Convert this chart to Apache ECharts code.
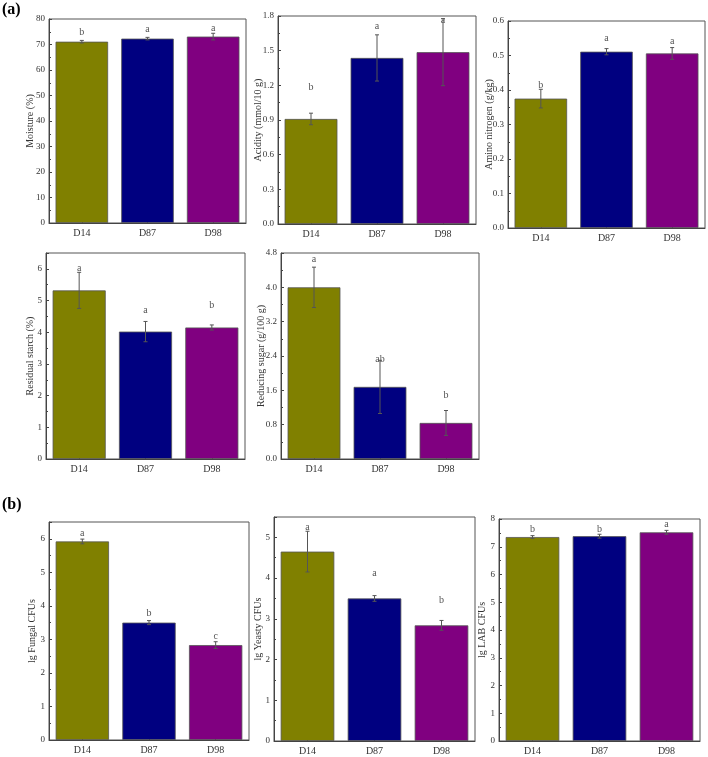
<!DOCTYPE html>
<html><head><meta charset="utf-8">
<script src="https://cdn.jsdelivr.net/npm/echarts@6/dist/echarts.min.js"></script>
<style>html,body{margin:0;padding:0;background:#fff}#c{width:708px;height:757px}</style>
</head><body><div id="c"></div>
<script>
const categories = ['D14', 'D87', 'D98'];
const colors = ['#808000', '#000080', '#800080'];

const moisture = [71.1, 72.3, 73.1];
const moistureErr = [0.5, 0.5, 1.3];
const moistureLetters = ['b', 'a', 'a'];
const moistureLetterY = [74.8, 76.0, 76.4];

const acidity = [0.909, 1.437, 1.487];
const acidityErr = [0.05, 0.2, 0.29];
const acidityLetters = ['b', 'a', 'a'];
const acidityLetterY = [1.18, 1.71, 1.76];

const aminoN = [0.375, 0.511, 0.506];
const aminoNErr = [0.027, 0.009, 0.017];
const aminoNLetters = ['b', 'a', 'a'];
const aminoNLetterY = [0.414, 0.549, 0.542];

const starch = [5.32, 4.02, 4.15];
const starchErr = [0.57, 0.32, 0.08];
const starchLetters = ['a', 'a', 'b'];
const starchLetterY = [6.0, 4.69, 4.84];

const sugar = [4.0, 1.68, 0.84];
const sugarErr = [0.47, 0.62, 0.29];
const sugarLetters = ['a', 'ab', 'b'];
const sugarLetterY = [4.65, 2.31, 1.48];

const fungal = [5.92, 3.50, 2.83];
const fungalErr = [0.07, 0.06, 0.1];
const fungalLetters = ['a', 'b', 'c'];
const fungalLetterY = [6.16, 3.78, 3.1];

const yeast = [4.65, 3.50, 2.84];
const yeastErr = [0.5, 0.07, 0.12];
const yeastLetters = ['a', 'a', 'b'];
const yeastLetterY = [5.25, 4.11, 3.45];

const lab = [7.35, 7.38, 7.52];
const labErr = [0.05, 0.07, 0.07];
const labLetters = ['b', 'b', 'a'];
const labLetterY = [7.62, 7.62, 7.81];

const panels = [
  {name: 'Moisture (%)', v: moisture, e: moistureErr, l: moistureLetters, ly: moistureLetterY, max: 80, iv: 10, dec: 0,
   g: {left: 49, top: 19, width: 197, height: 204}, gap: 14},
  {name: 'Acidity (mmol/10 g)', v: acidity, e: acidityErr, l: acidityLetters, ly: acidityLetterY, max: 1.8, iv: 0.3, dec: 1,
   g: {left: 278, top: 16, width: 198, height: 208}, gap: 15},
  {name: 'Amino nitrogen (g/kg)', v: aminoN, e: aminoNErr, l: aminoNLetters, ly: aminoNLetterY, max: 0.6, iv: 0.1, dec: 1,
   g: {left: 508, top: 21, width: 197, height: 207}, gap: 14},
  {name: 'Residual starch (%)', v: starch, e: starchErr, l: starchLetters, ly: starchLetterY, max: 6.5, iv: 1, dec: 0,
   g: {left: 46, top: 253, width: 199, height: 206}, gap: 11},
  {name: 'Reducing sugar (g/100 g)', v: sugar, e: sugarErr, l: sugarLetters, ly: sugarLetterY, max: 4.8, iv: 0.8, dec: 1,
   g: {left: 281, top: 253, width: 198, height: 206}, gap: 15},
  {name: 'lg Fungal CFUs', v: fungal, e: fungalErr, l: fungalLetters, ly: fungalLetterY, max: 6.5, iv: 1, dec: 0,
   g: {left: 49, top: 522, width: 200, height: 218}, gap: 12},
  {name: 'lg Yeasty CFUs', v: yeast, e: yeastErr, l: yeastLetters, ly: yeastLetterY, max: 5.5, iv: 1, dec: 0,
   g: {left: 274, top: 517, width: 201, height: 224}, gap: 11},
  {name: 'lg LAB CFUs', v: lab, e: labErr, l: labLetters, ly: labLetterY, max: 8, iv: 1, dec: 0,
   g: {left: 499, top: 519, width: 201, height: 222}, gap: 12}
];

const FONT = '"Liberation Serif", "Times New Roman", serif';
const grid = [], xAxis = [], yAxis = [], series = [];

panels.forEach((p, i) => {
  grid.push(Object.assign({show: true, borderColor: '#555', borderWidth: 1, backgroundColor: 'transparent'}, p.g));
  xAxis.push({
    type: 'category', gridIndex: i, data: categories,
    axisLine: {lineStyle: {color: '#444', width: 1}},
    axisTick: {show: true, inside: true, alignWithLabel: true, length: 3, lineStyle: {color: '#444'}},
    axisLabel: {color: '#333', fontFamily: FONT, fontSize: 10, margin: 5}
  });
  const isInt = Math.abs(p.max / p.iv - Math.round(p.max / p.iv)) < 1e-9;
  yAxis.push({
    type: 'value', gridIndex: i, min: 0, max: p.max, interval: p.iv,
    name: p.name, nameLocation: 'middle', nameGap: p.gap, nameMoveOverlap: false,
    nameTextStyle: {fontFamily: FONT, fontSize: 10, color: '#333'},
    splitLine: {show: false},
    axisLine: {show: true, lineStyle: {color: '#444', width: 1}},
    axisTick: {show: true, inside: true, length: 3, lineStyle: {color: '#444'}},
    minorTick: {show: true, splitNumber: 2, length: 2, lineStyle: {color: '#444'}},
    axisLabel: {color: '#333', fontFamily: FONT, fontSize: 9, margin: 4, showMaxLabel: isInt,
      formatter: v => v.toFixed(p.dec)}
  });
  series.push({
    type: 'bar', xAxisIndex: i, yAxisIndex: i, barCategoryGap: '20%',
    data: p.v.map((val, k) => ({value: val, itemStyle: {color: colors[k]}})),
    itemStyle: {borderColor: '#555', borderWidth: 0.8},
    silent: true
  });
  series.push({
    type: 'custom', xAxisIndex: i, yAxisIndex: i, silent: true, z: 5,
    data: p.v.map((val, k) => [k, val, p.e[k], p.ly[k]]),
    renderItem: (params, api) => {
      const k = api.value(0), val = api.value(1), err = api.value(2), ly = api.value(3);
      const hi = api.coord([k, val + err]);
      const lo = api.coord([k, val - err]);
      const lp = api.coord([k, ly]);
      const cap = 2;
      const st = {stroke: '#555', lineWidth: 1};
      return {type: 'group', children: [
        {type: 'line', shape: {x1: hi[0], y1: hi[1], x2: lo[0], y2: lo[1]}, style: st},
        {type: 'line', shape: {x1: hi[0] - cap, y1: hi[1], x2: hi[0] + cap, y2: hi[1]}, style: st},
        {type: 'line', shape: {x1: lo[0] - cap, y1: lo[1], x2: lo[0] + cap, y2: lo[1]}, style: st},
        {type: 'text', x: lp[0], y: lp[1], style: {text: p.l[params.dataIndex], fill: '#555',
          font: '10px ' + FONT, align: 'center', verticalAlign: 'middle'}}
      ]};
    }
  });
});

const chart = echarts.init(document.getElementById('c'), null, {renderer: 'canvas'});
chart.setOption({
  animation: false,
  backgroundColor: '#fff',
  grid, xAxis, yAxis, series,
  graphic: [
    {type: 'text', left: 2, top: 2, style: {text: '(a)', font: 'bold 16px ' + FONT, fill: '#000'}},
    {type: 'text', left: 2, top: 497, style: {text: '(b)', font: 'bold 16px ' + FONT, fill: '#000'}}
  ]
});
</script></body></html>
